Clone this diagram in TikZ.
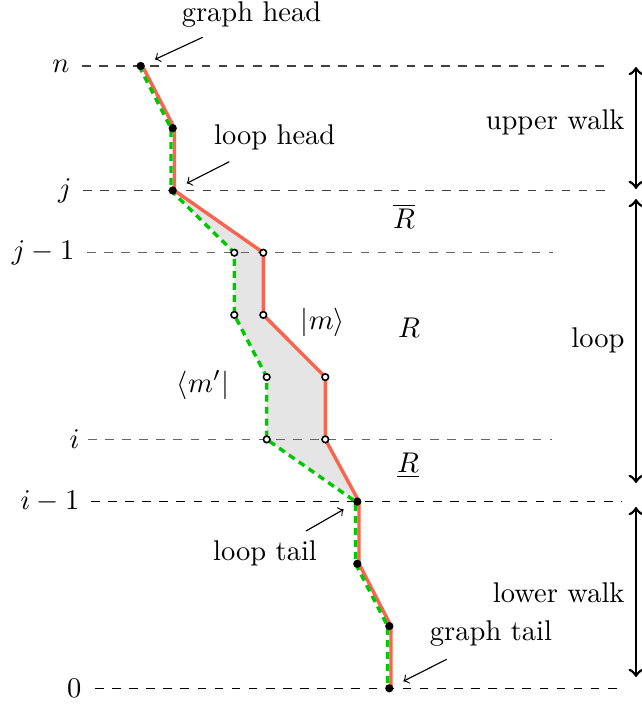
\documentclass[tikz,border=0pt]{standalone}
\definecolor{redw}{RGB}{250,100,78}
\definecolor{greenw}{RGB}{0,200,0}
\begin{document}
\begin{tikzpicture}[x=0.3509pt,y=-0.3509pt,
  lvl/.style={dashed, black!75, line width=0.4pt},
  lab/.style={inner sep=0pt, anchor=east},
  txt/.style={inner sep=0pt},
  redpath/.style={draw=redw, line width=1.2pt, line join=round},
  greenpath/.style={draw=greenw, line width=1.2pt, dash pattern=on 2.4pt off 1.8pt},
  bdot/.style={circle, fill=black, inner sep=0pt, minimum size=2.9pt},
  odot/.style={circle, draw=black, fill=white, line width=0.55pt, inner sep=0pt, minimum size=2.3pt},
  side/.style={<->, line width=0.95pt},
  note/.style={->, line width=0.4pt, shorten >=5.5pt}]
\useasboundingbox (0,0) rectangle (641,708);

% vertices
\coordinate (P10) at (140.7,66);
\coordinate (P9) at (172.7,128.2);
\coordinate (P8) at (172.7,190.5);
\coordinate (R7) at (263.3,252.7);
\coordinate (R6) at (263.3,314.9);
\coordinate (R5) at (325.3,377.1);
\coordinate (R4) at (325.3,439.4);
\coordinate (G7) at (234.3,252.7);
\coordinate (G6) at (234.3,314.9);
\coordinate (G5) at (266.7,377.1);
\coordinate (G4) at (266.7,439.4);
\coordinate (P3) at (357.3,501.6);
\coordinate (P2) at (357.3,563.8);
\coordinate (P1) at (389.3,626.1);
\coordinate (P0) at (389.3,688.3);

% loop fill
\fill[black!10] (P8) -- (R7) -- (R6) -- (R5) -- (R4) -- (P3) -- (G4) -- (G5) -- (G6) -- (G7) -- cycle;

% level labels and lines
\node[lab] (ln) at (70,66) {$n$};
\node[lab] (lj) at (72,190.5) {$j$};
\node[lab] (ljm) at (75,252.7) {$j-1$};
\node[lab] (li) at (80,439.4) {$i$};
\node[lab] (lim) at (80,501.6) {$i-1$};
\node[lab] (l0) at (82,688.3) {$0$};
\coordinate (ns) at (82,66);      \coordinate (ne) at (612,66);
\coordinate (js) at (83,190.5);   \coordinate (je) at (613,190.5);
\coordinate (jms) at (87,252.7);  \coordinate (jme) at (553,252.7);
\coordinate (is) at (88,439.4);   \coordinate (ie) at (552,439.4);
\coordinate (ims) at (91,501.6);  \coordinate (ime) at (622,501.6);
\coordinate (zs) at (95,688.3);   \coordinate (ze) at (623,688.3);
\draw[lvl] (ns) -- (ne);
\draw[lvl] (js) -- (je);
\draw[lvl, black!60] (jms) -- (jme);
\draw[lvl, black!60] (is) -- (ie);
\draw[lvl, black] (ims) -- (ime);
\draw[lvl, black] (zs) -- (ze);

% walks
\draw[redpath] ([xshift=0.6pt]P10) -- ([xshift=0.6pt]P9) -- ([xshift=0.6pt]P8) -- (R7) -- (R6) -- (R5) -- (R4)
  -- ([xshift=0.6pt]P3) -- ([xshift=0.6pt]P2) -- ([xshift=0.6pt]P1) -- ([xshift=0.6pt]P0);
\draw[greenpath] ([xshift=-0.6pt]P10) -- ([xshift=-0.6pt]P9) -- ([xshift=-0.6pt]P8) -- (G7) -- (G6) -- (G5) -- (G4)
  -- ([xshift=-0.6pt]P3) -- ([xshift=-0.6pt]P2) -- ([xshift=-0.6pt]P1) -- ([xshift=-0.6pt]P0);

% dots
\foreach \p in {P10,P9,P8,P3,P2,P1,P0} \node[bdot] at (\p) {};
\foreach \p in {R7,R6,R5,R4,G7,G6,G5,G4} \node[odot] at (\p) {};

% region labels
\node[txt] (Rb) at (404,216) {$\overline{R}$};
\node[txt] (Rm) at (409,328) {$R$};
\node[txt] (Ru) at (408,466) {$\underline{R}$};
\node[txt] (km) at (323,322) {$|m\rangle$};
\node[txt] (bm) at (203,385) {$\langle m'|$};

% annotations
\node[txt] (gh) at (251.5,15) {graph head};
\coordinate (ghs) at (202.7,37.3);
\draw[note] (ghs) -- (P10);
\node[txt] (lh) at (274.7,137) {loop head};
\coordinate (lhs) at (229.3,161.7);
\draw[note] (lhs) -- (P8);
\node[txt] (lt) at (265,553) {loop tail};
\coordinate (lts) at (306,531);
\draw[note] (lts) -- (P3);
\node[txt] (gt) at (491,634) {graph tail};
\coordinate (gts) at (446.7,659.3);
\draw[note] (gts) -- (P0);

% side arrows
\node[txt, anchor=east] (uw) at (625,122) {upper walk};
\node[txt, anchor=east] (lp) at (625,340) {loop};
\node[txt, anchor=east] (lw) at (625,593) {lower walk};
\coordinate (a1) at (636,67);  \coordinate (a2) at (636,189);
\coordinate (b1) at (636,199); \coordinate (b2) at (636,483);
\coordinate (c1) at (636,507); \coordinate (c2) at (636,677);
\draw[side] (a1) -- (a2);
\draw[side] (b1) -- (b2);
\draw[side] (c1) -- (c2);
\end{tikzpicture}
\end{document}
